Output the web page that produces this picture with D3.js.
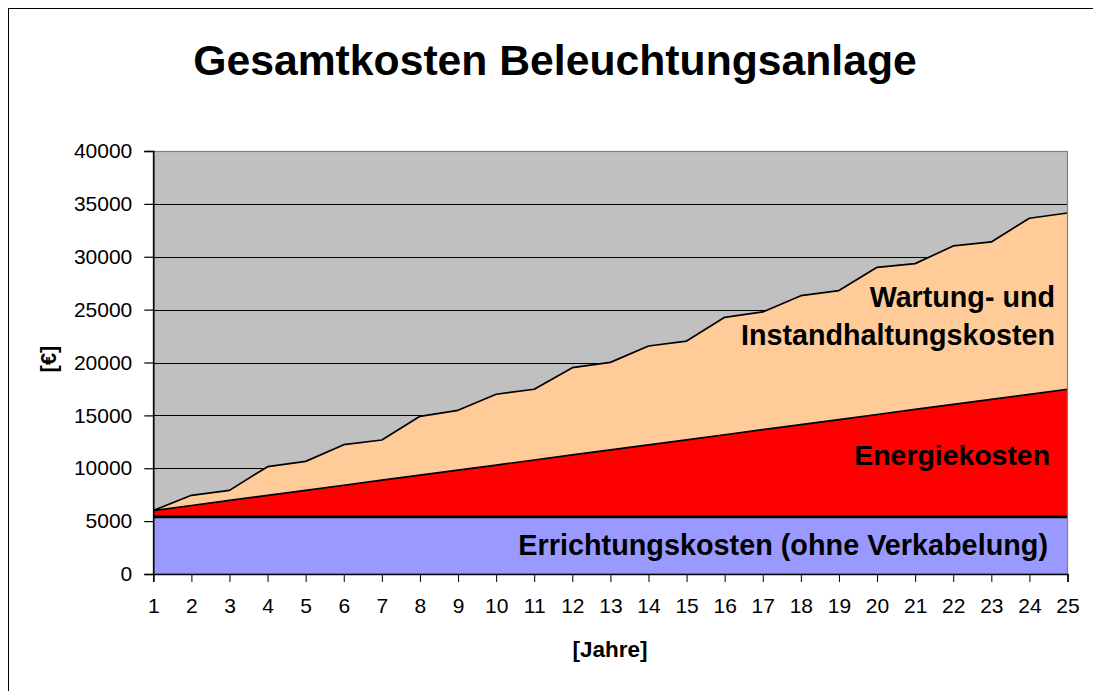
<!DOCTYPE html>
<html>
<head>
<meta charset="utf-8">
<script src="https://cdn.jsdelivr.net/npm/d3@7"></script>
<style>
  html, body { margin: 0; padding: 0; background: #fff; }
  svg { display: block; font-family: "Liberation Sans", Arial, sans-serif; }
</style>
</head>
<body>
<svg id="chart" width="1093" height="691"></svg>
<script>
// ---- data ----
const years = [1,2,3,4,5,6,7,8,9,10,11,12,13,14,15,16,17,18,19,20,21,22,23,24,25];
const errichtung = [5400,5400,5400,5400,5400,5400,5400,5400,5400,5400,5400,5400,5400,5400,5400,5400,5400,5400,5400,5400,5400,5400,5400,5400,5400];
const energie = [600,1080,1560,2030,2510,2990,3470,3950,4420,4900,5380,5860,6340,6810,7290,7770,8250,8730,9200,9680,10160,10640,11120,11590,12070];
const wartung = [0,960,950,2720,2740,3840,3800,5560,5660,6700,6690,8250,8270,9350,9340,11100,11130,12190,12200,13920,13790,14980,14880,16650,16670];
const yTicks = [0,5000,10000,15000,20000,25000,30000,35000,40000];
const seriesKeys = ["errichtung","energie","wartung"];
const seriesColors = {errichtung:"#9999FF", energie:"#FF0000", wartung:"#FFCC99"};
const seriesLabels = {
  errichtung: ["Errichtungskosten (ohne Verkabelung)"],
  energie: ["Energiekosten"],
  wartung: ["Wartung- und", "Instandhaltungskosten"]
};

// ---- layout ----
const svg = d3.select("#chart");
const L = 153.3, R = 1067.5, T = 151, B = 574;
const x = d3.scaleLinear().domain([1,25]).range([L,R]);
const y = d3.scaleLinear().domain([0,40000]).range([B,T]);

// outer border
svg.append("rect").attr("x",8.5).attr("y",8.5).attr("width",1200).attr("height",800)
  .attr("fill","#fff").attr("stroke","#000").attr("stroke-width",1);

// title
svg.append("text").attr("x",555).attr("y",75).attr("text-anchor","middle")
  .attr("font-size",42.7).attr("font-weight","bold").text("Gesamtkosten Beleuchtungsanlage");

// plot background
svg.append("rect").attr("x",L).attr("y",T).attr("width",R-L).attr("height",B-T)
  .attr("fill","#C0C0C0");

// gridlines
svg.append("g").selectAll("line").data(yTicks.filter(d=>d>0 && d<40000)).join("line")
  .attr("x1",L).attr("x2",R).attr("y1",d=>Math.round(y(d))+0.5).attr("y2",d=>Math.round(y(d))+0.5)
  .attr("stroke","#000").attr("stroke-width",1.2);

// stacked areas
const table = years.map((yr,i)=>({year:yr, errichtung:errichtung[i], energie:energie[i], wartung:wartung[i]}));
const stack = d3.stack().keys(seriesKeys)(table);
const area = d3.area().x(d=>x(d.data.year)).y0(d=>y(d[0])).y1(d=>y(d[1]));
const line = d3.line().x(d=>x(d.data.year)).y(d=>y(d[1]));

svg.append("g").selectAll("path").data(stack).join("path")
  .attr("d",area).attr("fill",d=>seriesColors[d.key]);

svg.append("g").selectAll("path").data(stack).join("path")
  .attr("d",line).attr("fill","none").attr("stroke","#000")
  .attr("stroke-width",d=>d.key==="errichtung"?2.6:1.7).attr("stroke-linejoin","round");

// plot border (top/right)
svg.append("rect").attr("x",L).attr("y",T+0.5).attr("width",R-L).attr("height",B-T-0.5)
  .attr("fill","none").attr("stroke","#808080").attr("stroke-width",1.2);

// axes
const yAxis = d3.axisLeft(y).tickValues(yTicks).tickSize(9).tickPadding(12).tickFormat(d3.format("d"));
const gy = svg.append("g").attr("transform",`translate(${L},0)`).call(yAxis);
gy.select(".domain").attr("stroke","#000").attr("stroke-width",1.5);
gy.selectAll(".tick line").attr("stroke","#000").attr("stroke-width",1.2);
gy.selectAll(".tick text").attr("font-size",21).attr("fill","#000")
  .attr("font-family","'Liberation Sans', Arial, sans-serif");

const xAxis = d3.axisBottom(x).tickValues(years).tickSize(8).tickPadding(16).tickFormat(d3.format("d"));
const gx = svg.append("g").attr("transform",`translate(0,${B})`).call(xAxis);
gx.select(".domain").attr("stroke","#000").attr("stroke-width",1.5);
gx.selectAll(".tick line").attr("stroke","#000").attr("stroke-width",1);
gx.selectAll(".tick text").attr("font-size",21).attr("fill","#000")
  .attr("font-family","'Liberation Sans', Arial, sans-serif");

// axis titles
svg.append("text").attr("x",610).attr("y",657).attr("text-anchor","middle")
  .attr("font-size",22.5).attr("font-weight","bold").text("[Jahre]");
svg.append("text").attr("transform","translate(56,359) rotate(-90)").attr("text-anchor","middle")
  .attr("font-size",22).attr("font-weight","bold").text("[€]");

// series labels
const labelPos = {
  wartung: {x:1055, y:[307, 345], size:28.7},
  energie: {x:1050, y:[465], size:28.4},
  errichtung: {x:1048, y:[555], size:28.8}
};
seriesKeys.forEach(k=>{
  const p = labelPos[k];
  seriesLabels[k].forEach((t,i)=>{
    svg.append("text").attr("x",p.x).attr("y",p.y[i]).attr("text-anchor","end")
      .attr("font-size",p.size).attr("font-weight","bold").attr("fill","#000").text(t);
  });
});
</script>
</body>
</html>
